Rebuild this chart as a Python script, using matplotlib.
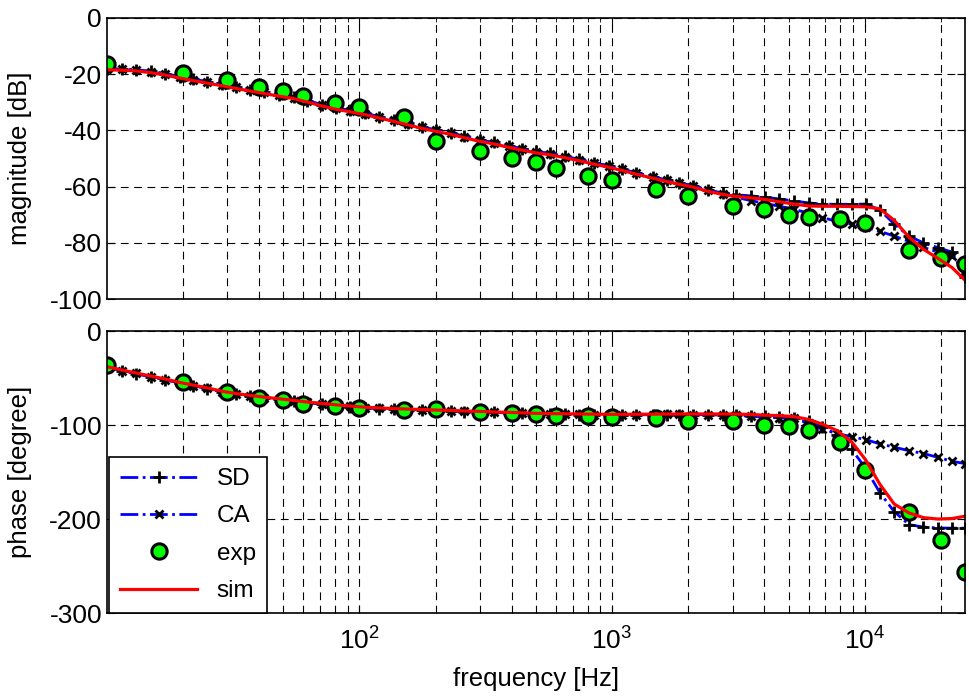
import numpy as np
import matplotlib
matplotlib.use('Agg')
import matplotlib.pyplot as plt
from matplotlib.ticker import LogLocator, NullFormatter

plt.rcParams['font.family'] = ['Liberation Sans', 'DejaVu Sans']
plt.rcParams['axes.unicode_minus'] = False

# measured points
freq_exp = [10, 20, 30, 40, 50, 60, 80, 100, 150, 200, 300, 400, 500, 600, 800,
            1000, 1500, 2000, 3000, 4000, 5000, 6000, 8000, 10000, 15000, 20000, 25000]
mag_exp = [-16.2, -19.5, -21.9, -24.7, -26.0, -27.7, -30.1, -31.6, -35.1, -43.7,
           -47.2, -49.8, -51.3, -53.5, -56.3, -57.7, -61.0, -63.3, -66.9, -68.0,
           -70.1, -70.9, -71.5, -73.0, -82.4, -85.4, -87.4]
phase_exp = [-36.1, -53.9, -64.5, -70.9, -73.3, -77.6, -79.7, -81.5, -84.0, -83.2,
             -85.7, -87.5, -88.4, -90.3, -90.3, -91.0, -92.8, -95.6, -95.6, -99.9,
             -101.0, -105.2, -117.6, -147.7, -192.0, -222.0, -256.5]

# model curves
freq_model = [10, 11.5, 13, 15, 17, 19.5, 22, 25, 28.5, 32.5, 37, 42, 48, 55, 62,
              71, 81, 92, 105, 120, 137, 155, 177, 200, 230, 260, 300, 340, 390,
              440, 500, 570, 650, 740, 850, 970, 1100, 1250, 1450, 1650, 1850,
              2100, 2400, 2750, 3100, 3550, 4050, 4600, 5250, 6000, 6800, 7800,
              8900, 10100, 11500, 13100, 15000, 17100, 19500, 22200, 25000]

mag_sim = [-18.4, -18.6, -18.8, -19.5, -20.3, -21.4, -22.3, -23.2, -24.1, -25.1,
           -26.0, -26.9, -27.8, -28.7, -29.9, -31.3, -32.5, -33.4, -34.4, -35.6,
           -36.8, -38.0, -39.3, -40.3, -41.4, -42.6, -43.9, -44.8, -46.0, -47.0,
           -48.0, -48.7, -49.7, -50.8, -52.0, -53.1, -54.3, -55.6, -57.0, -58.2,
           -59.2, -60.2, -61.7, -62.8, -63.5, -64.0, -64.6, -65.4, -66.2, -66.9,
           -67.0, -67.0, -67.1, -67.2, -67.9, -72.0, -78.0, -82.3, -85.5, -88.8,
           -93.3]
mag_sd = [-18.0, -18.2, -18.4, -19.0, -19.8, -20.9, -21.8, -22.7, -23.6, -24.6,
          -25.5, -26.4, -27.3, -28.2, -29.4, -30.8, -32.0, -32.9, -33.9, -35.1,
          -36.3, -37.5, -38.8, -39.8, -40.9, -42.1, -43.4, -44.3, -45.5, -46.5,
          -47.5, -48.2, -49.2, -50.3, -51.5, -52.6, -53.8, -55.1, -56.5, -57.7,
          -58.7, -59.7, -61.2, -62.3, -62.9, -63.3, -63.8, -64.4, -65.1, -65.8,
          -66.2, -66.3, -66.3, -66.2, -68.3, -73.3, -77.6, -80.0, -81.7, -83.3,
          -92.0]
mag_ca = [-18.1, -18.3, -18.5, -19.1, -19.9, -21.0, -21.9, -22.8, -23.7, -24.7,
          -25.6, -26.5, -27.4, -28.3, -29.5, -30.9, -32.1, -33.0, -34.0, -35.2,
          -36.4, -37.6, -38.9, -39.9, -41.0, -42.2, -43.5, -44.4, -45.6, -46.6,
          -47.6, -48.3, -49.3, -50.4, -51.6, -52.7, -53.9, -55.2, -56.6, -57.8,
          -58.8, -59.8, -61.3, -62.6, -63.8, -65.0, -66.0, -67.0, -68.0, -69.5,
          -71.0, -72.4, -73.3, -74.5, -75.9, -77.6, -79.5, -81.6, -83.3, -84.6,
          -90.0]

phase_sim = [-37.9, -41.5, -44.5, -48.0, -51.0, -54.8, -57.5, -60.5, -64.0, -66.5,
             -68.5, -70.3, -72.0, -73.8, -75.5, -77.0, -78.5, -79.8, -81.0, -81.8,
             -82.5, -83.0, -83.5, -84.0, -84.5, -85.0, -85.5, -86.0, -86.5, -87.0,
             -87.5, -87.8, -88.0, -88.2, -88.4, -88.6, -88.6, -88.5, -88.4, -88.3,
             -88.2, -88.2, -88.2, -88.2, -88.3, -88.8, -89.5, -90.0, -91.0, -94.0,
             -99.0, -106.0, -118.0, -137.0, -163.0, -184.0, -193.5, -198.5, -200.0,
             -199.5, -197.0]
phase_sd = [-38.5, -42.2, -45.3, -48.8, -51.8, -55.5, -58.2, -61.2, -64.6, -67.1,
            -69.1, -70.9, -72.6, -74.4, -76.1, -77.6, -79.1, -80.4, -81.6, -82.4,
            -83.1, -83.6, -84.1, -84.6, -85.1, -85.6, -86.1, -86.6, -87.1, -87.6,
            -88.1, -88.4, -88.6, -88.8, -89.0, -89.2, -89.2, -89.1, -89.0, -88.9,
            -88.8, -88.8, -88.9, -89.0, -89.3, -89.9, -90.8, -91.5, -92.5, -96.0,
            -102.0, -110.5, -126.0, -146.0, -172.0, -192.0, -206.0, -208.5,
            -209.5, -209.7, -209.7]
phase_ca = [-38.3, -42.0, -45.1, -48.6, -51.6, -55.3, -58.0, -61.0, -64.4, -66.9,
            -68.9, -70.7, -72.4, -74.2, -75.9, -77.4, -78.9, -80.2, -81.4, -82.2,
            -82.9, -83.4, -83.9, -84.4, -84.9, -85.4, -85.9, -86.4, -86.9, -87.4,
            -87.9, -88.2, -88.4, -88.6, -88.8, -89.0, -89.0, -88.9, -88.8, -88.7,
            -88.7, -88.8, -89.0, -89.3, -89.8, -90.5, -91.3, -92.0, -93.0, -98.0,
            -104.5, -109.0, -112.5, -115.5, -120.0, -123.5, -127.3, -130.3,
            -134.3, -138.6, -141.0]

mag_ticks = [0, -20, -40, -60, -80, -100]
phase_ticks = [0, -100, -200, -300]

fs = 19
fs_label = 18.5
fs_leg = 17.5

fig = plt.figure(figsize=(9.69, 6.97), dpi=100)
ax1 = fig.add_axes([0.1104, 0.571, 0.8855, 0.4032])
ax2 = fig.add_axes([0.1104, 0.1205, 0.8855, 0.4045])

grid_ls = (0, (7, 5))


def draw(ax, y_sd, y_ca, y_exp, y_sim):
    ax.semilogx(freq_model, y_sd, '-.', color='blue', lw=2, marker='+',
                ms=9, mec='black', mew=2, label='SD')
    ax.semilogx(freq_model, y_ca, '-.', color='blue', lw=2, marker='x',
                ms=6, mec='black', mew=2, label='CA')
    ax.semilogx(freq_exp, y_exp, 'o', ms=11, mfc='#00ff00', mec='black',
                mew=2.2, label='exp')
    ax.semilogx(freq_model, y_sim, '-', color='red', lw=2.3, label='sim')
    ax.set_xlim(10, 25000)
    ax.set_xticks([100, 1000, 10000])
    ax.xaxis.set_minor_locator(LogLocator(base=10, subs=np.arange(2, 10)))
    ax.xaxis.set_minor_formatter(NullFormatter())
    ax.grid(True, which='both', axis='x', color='black', ls=grid_ls, lw=0.8)
    ax.grid(True, which='major', axis='y', color='black', ls=grid_ls, lw=0.8)
    ax.set_axisbelow(True)
    ax.tick_params(which='both', direction='in', top=True, right=True,
                   labelsize=fs)
    ax.tick_params(which='major', length=6)
    ax.tick_params(which='minor', length=3)
    ax.tick_params(axis='x', pad=10)
    for s in ax.spines.values():
        s.set_linewidth(1.2)


draw(ax1, mag_sd, mag_ca, mag_exp, mag_sim)
ax1.set_ylim(-100, 0)
ax1.set_yticks(mag_ticks)
ax1.set_xticklabels([])
ax1.set_ylabel('magnitude [dB]', fontsize=fs_label)

draw(ax2, phase_sd, phase_ca, phase_exp, phase_sim)
ax2.set_ylim(-300, 0)
ax2.set_yticks(phase_ticks)
ax2.set_ylabel('phase [degree]', fontsize=fs_label)
ax2.set_xlabel('frequency [Hz]', fontsize=fs_label, labelpad=9)

ax1.yaxis.set_label_coords(-0.087, 0.5)
ax2.yaxis.set_label_coords(-0.087, 0.5)

leg = ax2.legend(loc='lower left', bbox_to_anchor=(0.002, 0.0),
                 fontsize=fs_leg, fancybox=False, framealpha=1,
                 edgecolor='black', borderaxespad=0, handlelength=3.2,
                 labelspacing=0.63, borderpad=0.45)
leg.get_frame().set_linewidth(1.2)

fig.savefig('out.png', dpi=100)
